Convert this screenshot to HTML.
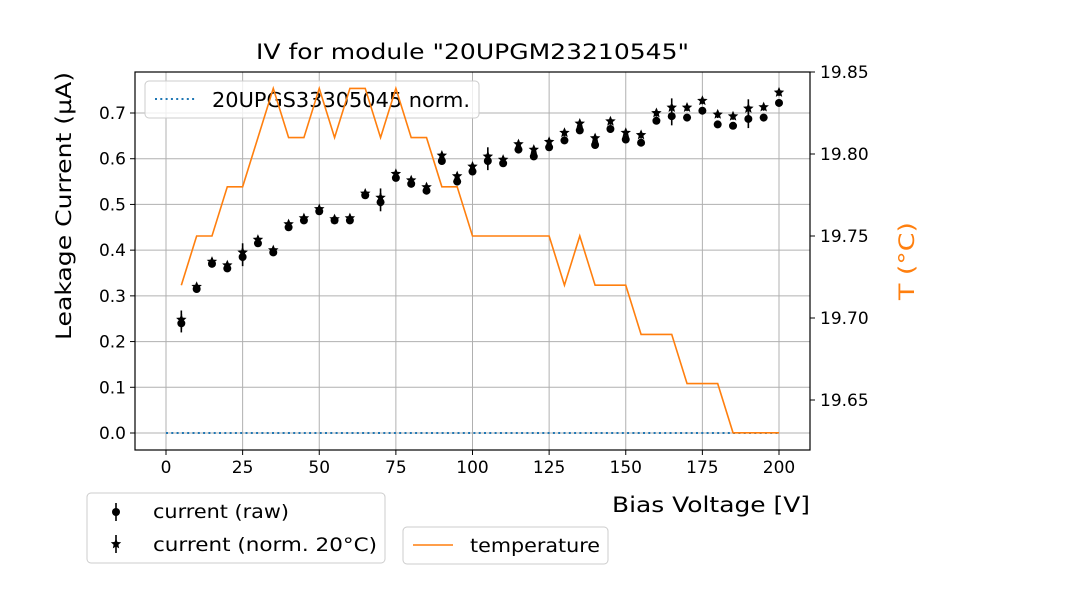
<!DOCTYPE html>
<html><head><meta charset="utf-8"><style>
body{margin:0;background:#fff;font-family:"DejaVu Sans","Liberation Sans",sans-serif}
svg text{font-family:"DejaVu Sans","Liberation Sans",sans-serif}
</style></head><body>
<svg id="c" width="1080" height="600" xmlns="http://www.w3.org/2000/svg"></svg>
<script>
const voltages=[5,10,15,20,25,30,35,40,45,50,55,60,65,70,75,80,85,90,95,100,105,110,115,120,125,130,135,140,145,150,155,160,165,170,175,180,185,190,195,200];
const currentRaw=[0.24,0.315,0.37,0.36,0.385,0.415,0.395,0.45,0.465,0.485,0.465,0.465,0.52,0.505,0.558,0.545,0.53,0.595,0.55,0.572,0.595,0.59,0.62,0.605,0.625,0.64,0.662,0.63,0.665,0.642,0.635,0.683,0.693,0.69,0.705,0.675,0.672,0.687,0.69,0.722];
const currentNorm=[0.248,0.32,0.375,0.367,0.395,0.423,0.4,0.457,0.47,0.49,0.468,0.47,0.524,0.515,0.567,0.553,0.538,0.607,0.562,0.583,0.605,0.598,0.632,0.62,0.637,0.657,0.677,0.645,0.682,0.657,0.652,0.7,0.712,0.712,0.727,0.697,0.693,0.71,0.713,0.745];
const currentErr=[0.02,0.008,0.008,0.008,0.02,0.008,0.008,0.008,0.008,0.008,0.008,0.008,0.008,0.02,0.008,0.008,0.008,0.008,0.008,0.008,0.02,0.008,0.008,0.008,0.008,0.008,0.008,0.008,0.008,0.008,0.008,0.008,0.02,0.008,0.008,0.008,0.008,0.02,0.008,0.008];
const temperature=[19.72,19.75,19.75,19.78,19.78,19.81,19.84,19.81,19.81,19.84,19.81,19.84,19.84,19.81,19.84,19.81,19.81,19.78,19.78,19.75,19.75,19.75,19.75,19.75,19.75,19.72,19.75,19.72,19.72,19.72,19.69,19.69,19.69,19.66,19.66,19.66,19.63,19.63,19.63,19.63];
const xTicks=[0,25,50,75,100,125,150,175,200];
const yTicks=[0.0,0.1,0.2,0.3,0.4,0.5,0.6,0.7];
const tTicks=[19.65,19.70,19.75,19.80,19.85];

const svg=document.getElementById('c');const NS='http://www.w3.org/2000/svg';
const L=135,R=810,T=72,B=450;
const xs=v=>166+v*(779-166)/200;
const ys=v=>433-v*(433-113)/0.7;
const ts=v=>72+(19.85-v)*1640;
function el(tag,a,p){const e=document.createElementNS(NS,tag);for(const k in a)e.setAttribute(k,a[k]);(p||svg).appendChild(e);return e;}
function tx(s,a,p){const e=el('text',a,p);e.textContent=s;if(a.textLength)e.setAttribute('lengthAdjust','spacingAndGlyphs');return e;}
const grid=el('g',{});


xTicks.forEach(v=>el('line',{x1:xs(v),x2:xs(v),y1:T,y2:B,stroke:'#b0b0b0','stroke-width':1},grid));
yTicks.forEach(v=>el('line',{x1:L,x2:R,y1:ys(v),y2:ys(v),stroke:'#b0b0b0','stroke-width':1},grid));
const xa=el('g',{});


xTicks.forEach(v=>{el('line',{x1:xs(v),x2:xs(v),y1:B,y2:B+5,stroke:'#000'},xa);tx(String(v),{x:xs(v),y:B+23,'font-size':17,'text-anchor':'middle'},xa);});
const ya=el('g',{});


yTicks.forEach(v=>{el('line',{x1:L-5,x2:L,y1:ys(v),y2:ys(v),stroke:'#000'},ya);tx(v.toFixed(1),{x:L-9,y:ys(v)+6,'font-size':17,'text-anchor':'end'},ya);});
const ta=el('g',{});


tTicks.forEach(v=>{el('line',{x1:R,x2:R+5,y1:ts(v),y2:ts(v),stroke:'#000'},ta);tx(v.toFixed(2),{x:R+10,y:ts(v)+6,'font-size':17},ta);});
const ref=el('line',{x1:xs(0),x2:xs(200),y1:ys(0),y2:ys(0),stroke:'#1f77b4','stroke-width':2,'stroke-dasharray':'2,3.3'});


function star(cx,cy,r){let p=[];for(let k=0;k<10;k++){const a=-Math.PI/2+k*Math.PI/5;const rr=k%2?r*0.45:r;p.push((cx+rr*Math.cos(a)).toFixed(1)+','+(cy+rr*Math.sin(a)).toFixed(1));}return p.join(' ');}
voltages.forEach((v,i)=>{
  const x=xs(v);
  const e1=el('line',{x1:x,x2:x,y1:ys(currentRaw[i]-currentErr[i]),y2:ys(currentRaw[i]+currentErr[i]),stroke:'#000','stroke-width':1.6});
  
  
  const c=el('circle',{cx:x,cy:ys(currentRaw[i]),r:4,fill:'#000'});
  
  
  const e2=el('line',{x1:x,x2:x,y1:ys(currentNorm[i]-currentErr[i]),y2:ys(currentNorm[i]+currentErr[i]),stroke:'#000','stroke-width':1.6});
  
  
  const s=el('polygon',{points:star(x,ys(currentNorm[i]),5.5),fill:'#000'});
  
  
});
const lg1=el('g',{});


el('rect',{x:145,y:81,width:334,height:37,rx:4,fill:'#fff','fill-opacity':0.8,stroke:'#ccc'},lg1);
el('line',{x1:155,x2:195,y1:99,y2:99,stroke:'#1f77b4','stroke-width':2,'stroke-dasharray':'2,3.3'},lg1);
tx('20UPGS33305045 norm.',{x:212,y:107,'font-size':20,textLength:258},lg1);
const tl=el('polyline',{points:voltages.map((v,i)=>xs(v)+','+ts(temperature[i])).join(' '),fill:'none',stroke:'#ff7f0e','stroke-width':1.6});


el('rect',{x:L,y:T,width:R-L,height:B-T,fill:'none',stroke:'#000','stroke-width':1.2});
const tt=tx('IV for module "20UPGM23210545"',{x:256,y:59,'font-size':21,textLength:433});


const xl=tx('Bias Voltage [V]',{x:612,y:512,'font-size':21,textLength:198});


const yl=tx('Leakage Current (µA)',{x:-340,y:71,'font-size':21,textLength:268,transform:'rotate(-90)'});


const tlab=tx('T (°C)',{x:-300,y:914,'font-size':21,fill:'#ff7f0e',textLength:78,transform:'rotate(-90)'});


const lg2=el('g',{});


el('rect',{x:87,y:493,width:298,height:70,rx:4,fill:'#fff',stroke:'#ccc'},lg2);
el('line',{x1:116,x2:116,y1:503,y2:521,stroke:'#000','stroke-width':1.6},lg2);
el('circle',{cx:116,cy:512,r:4,fill:'#000'},lg2);
tx('current (raw)',{x:153,y:518,'font-size':19,textLength:136},lg2);
el('line',{x1:116,x2:116,y1:535,y2:553,stroke:'#000','stroke-width':1.6},lg2);
el('polygon',{points:star(116,544,5.5),fill:'#000'},lg2);
tx('current (norm. 20°C)',{x:153,y:551,'font-size':19,textLength:224},lg2);
const lg3=el('g',{});


el('rect',{x:403,y:527,width:205,height:37,rx:4,fill:'#fff',stroke:'#ccc'},lg3);
el('line',{x1:413,x2:453,y1:545,y2:545,stroke:'#ff7f0e','stroke-width':1.6},lg3);
tx('temperature',{x:470,y:552,'font-size':19,textLength:130},lg3);
</script>
</body></html>
